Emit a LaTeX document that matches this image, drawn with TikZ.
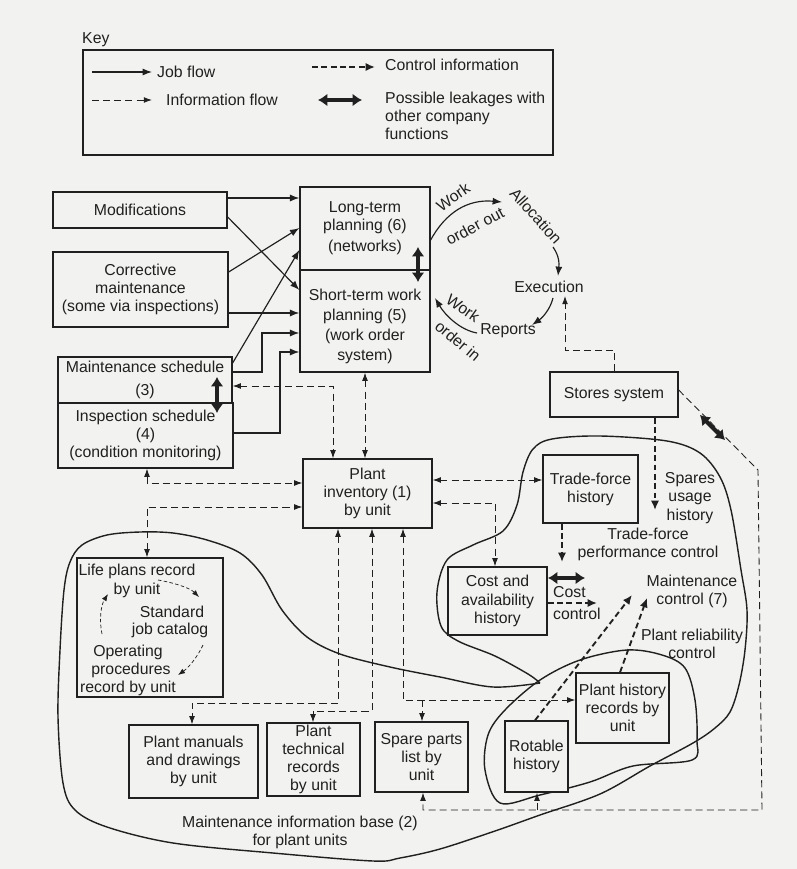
\documentclass[tikz,border=0pt]{standalone}
\usepackage{fontspec}
\setmainfont{Liberation Sans}
\usetikzlibrary{arrows.meta}
\definecolor{paper}{RGB}{242,242,240}
\definecolor{ink}{RGB}{32,32,32}
\begin{document}
\begin{tikzpicture}[x=0.03cm,y=-0.03cm,
  every node/.style={text=ink,font=\fontsize{13.5}{15.5}\selectfont,inner sep=0pt,align=center},
  box/.style={draw=ink,line width=1.1pt,fill=paper},
  job/.style={draw=ink,line width=1pt,-{Latex[length=8pt,width=6pt]}},
  info/.style={draw=ink,line width=0.75pt,dash pattern=on 6pt off 3.5pt,-{Latex[length=7pt,width=5pt]}},
  infob/.style={info,{Latex[length=7pt,width=5pt]}-{Latex[length=7pt,width=5pt]}},
  infos/.style={draw=ink,line width=0.6pt,dash pattern=on 3pt off 2pt,-{Latex[length=6pt,width=4.5pt]}},
  ctrl/.style={draw=ink,line width=1.6pt,dash pattern=on 5pt off 3pt,-{Latex[length=8pt,width=7pt]}},
  leak/.style={draw=ink,line width=3.5pt,{Latex[length=8pt,width=11pt]}-{Latex[length=8pt,width=11pt]}},
  blob/.style={draw=ink,line width=1.2pt},
]
\fill[paper] (0,0) rectangle (797,869);
\useasboundingbox (0,0) rectangle (797,869);

% ---------- key ----------
\node[anchor=west] (keyt) at (82,40) {Key};
\node[box,minimum width=14.1cm,minimum height=3.15cm] (keybox) at (318,102.5) {};
\coordinate (k1a) at (92,72); \coordinate (k1b) at (152,72);
\draw[job] (k1a) -- (k1b);
\node[anchor=west] (k1t) at (157,72) {Job flow};
\coordinate (k2a) at (92,100); \coordinate (k2b) at (152,100);
\draw[info] (k2a) -- (k2b);
\node[anchor=west] (k2t) at (166,100) {Information flow};
\coordinate (k3a) at (312,67); \coordinate (k3b) at (375,67);
\draw[ctrl] (k3a) -- (k3b);
\node[anchor=west] (k3t) at (385,65) {Control information};
\coordinate (k4a) at (318,100); \coordinate (k4b) at (362,100);
\draw[leak] (k4a) -- (k4b);
\node[anchor=west,align=left] (k4t) at (385,116) {Possible leakages with\\other company\\functions};

% ---------- blobs ----------
\draw[blob] plot[smooth,tension=0.55] coordinates {(540,683) (528,674) (495,656) (458,641) (441,626) (437,592) (447,560) (473,545) (503,531) (517,505) (523,472) (533,449) (552,439) (600,436) (667,441) (700,453) (720,477) (731,510) (741,570) (747,610) (745,650) (739,685) (730,712) (715,728) (693,743) (650,766) (600,794) (540,815) (495,831) (440,849) (400,858) (373,861) (273,853) (173,843) (107,827) (75,810) (63,783) (58,717) (60,650) (64,590) (70,562) (82,545) (107,535) (140,532) (173,533) (207,540) (240,553) (262,575) (282,610) (307,637) (340,654) (390,667) (440,677) (493,687) (540,683)};
\draw[blob] plot[smooth cycle,tension=0.55] coordinates {(540,680) (580,660) (627,650) (662,655) (685,668) (695,700) (697,740) (692,760) (633,766) (590,782) (540,795) (500,803) (485,770) (488,735) (505,710)};

% ---------- boxes ----------
\node[box,minimum width=5.22cm,minimum height=1.08cm] (mod) at (140,210) {Modifications};
\node[box,minimum width=5.25cm,minimum height=2.25cm] (corr) at (140.5,289.5) {Corrective\\maintenance\\(some via inspections)};
\node[box,minimum width=3.9cm,minimum height=2.49cm] (lt) at (365,228.5) {Long-term\\planning (6)\\[2.6pt](networks)};
\node[box,minimum width=3.9cm,minimum height=3.06cm] (st) at (365,321) {};
\node (stt) at (365,326.5) {Short-term work\\[1.5pt]planning (5)\\[1.5pt](work order\\[1.5pt]system)};
\node[box,minimum width=5.22cm,minimum height=1.38cm] (ms) at (145,380) {Maintenance schedule\\[4pt](3)};
\node[box,minimum width=5.25cm,minimum height=1.95cm] (is) at (145.5,435.5) {Inspection schedule\\(4)\\(condition monitoring)};
\node[box,minimum width=3.87cm,minimum height=2.07cm] (pi) at (367.5,493.5) {Plant\\inventory (1)\\by unit};
\node[box,minimum width=3.84cm,minimum height=1.35cm] (stores) at (614,394.5) {Stores system};
\node[box,minimum width=2.85cm,minimum height=2.04cm] (tfh) at (590.5,489) {Trade-force\\history};
\node[box,minimum width=2.97cm,minimum height=2.04cm] (cah) at (497.5,601) {Cost and\\availability\\history};
\node[box,minimum width=2.79cm,minimum height=2.1cm] (phr) at (622.5,708) {Plant history\\records by\\unit};
\node[box,minimum width=1.89cm,minimum height=2.13cm] (rot) at (536.5,756.5) {Rotable\\history};
\node[box,minimum width=2.79cm,minimum height=2.1cm] (spl) at (421.5,757) {Spare parts\\list by\\unit};
\node[box,minimum width=3.87cm,minimum height=2.19cm] (pm) at (193.5,761.5) {Plant manuals\\and drawings\\by unit};
\node[box,minimum width=2.79cm,minimum height=2.19cm] (ptr) at (313.5,759.5) {Plant\\technical\\records\\by unit};
\node[box,minimum width=4.38cm,minimum height=4.17cm] (lp) at (150,627.5) {};

% life plans contents
\node (lp1) at (137,571) {Life plans record};
\node (lp2) at (137,590) {by unit};
\node (lp3) at (172,612) {Standard};
\node (lp4) at (170,630) {job catalog};
\node (lp5) at (128,652) {Operating};
\node (lp6) at (131,670) {procedures};
\node (lp7) at (128,688) {record by unit};
\draw[infos] (158,580) .. controls (175,583) and (190,588) .. (199,597);
\draw[infos] (203,645) .. controls (197,658) and (188,668) .. (178,675);
\draw[infos] (102,634) .. controls (99,620) and (101,605) .. (108,594);

% ---------- free labels ----------
\node (exec) at (549,287) {Execution};
\node (rep) at (508,331) {Reports};
\node[rotate=-48] (alloc) at (536,216) {Allocation};
\node[rotate=35] (wo1) at (453,197) {Work};
\node[rotate=28] (wo2) at (475,226) {order out};
\node[rotate=-35] (wi1) at (463,308) {Work};
\node[rotate=-40] (wi2) at (458,341) {order in};
\node (spu) at (690,498) {Spares\\usage\\history};
\node (tfp) at (648,544) {Trade-force\\performance control};
\node[anchor=west,align=left] (cc) at (553,603) {Cost\\[4pt]control};
\node (mc) at (692,591) {Maintenance\\control (7)};
\node (prc) at (692,643.5) {Plant reliability\\control};
\node (mib) at (300,832.5) {Maintenance information base (2)\\for plant units};

% ---------- job flow ----------
\draw[job] (mod.east |- 0,198) -- (lt.west |- 0,198);
\draw[job] (mod.east |- 0,217) -- (st.west |- 0,290);
\draw[job] (corr.east |- 0,272) -- (lt.west |- 0,228);
\draw[job] (corr.east |- 0,313) -- (st.west |- 0,313);
\draw[job] (ms.east |- 0,363) -- (lt.west |- 0,250);
\draw[job] (ms.east |- 0,372) -- (262,372) -- (262,333) -- (st.west |- 0,333);
\draw[job] (is.east |- 0,433) -- (280,433) -- (280,352) -- (st.west |- 0,352);

% cycle
\draw[job] (lt.east |- 0,240) .. controls (446,212) and (468,199) .. (502,202);
\draw[job] (553,247) .. controls (560,257) and (559,265) .. (558,276);
\draw[job] (553,298) .. controls (550,310) and (542,318) .. (532,325);
\draw[job] (477,333) .. controls (460,330) and (445,315) .. (435,298);

% ---------- information flow ----------
\draw[info] (stores.north) -- (614,350) -- (565,350) -- (565,296);
\draw[infob] (st.south) -- (st.south |- pi.north);
\draw[infob] (ms.east |- 0,386) -- (333,386) -- (pi.north -| 333,0);
\draw[infob] (is.south -| 147,0) -- (147,483) -- (pi.west |- 0,483);
\draw[infob] (lp.north -| 147,0) -- (147,507) -- (pi.west |- 0,507);
\draw[infob] (pi.east |- 0,480) -- (tfh.west |- 0,480);
\draw[infob] (pi.east |- 0,503) -- (495,503) -- (cah.north -| 495,0);
\draw[infob] (pi.south -| 338,0) -- (338,703) -- (192,703) -- (pm.north -| 192,0);
\draw[infob] (pi.south -| 372,0) -- (372,711) -- (313,711) -- (ptr.north -| 313,0);
\draw[infob] (pi.south -| 403,0) -- (403,700) -- (phr.west |- 0,700);
\draw[info] (422,700) -- (spl.north -| 422,0);
\draw[info] (stores.east |- 0,390) -- (758,470) -- (762,810) -- (423,810) -- (spl.south -| 423,0);
\draw[info] (537,810) -- (rot.south -| 537,0);

% ---------- control information ----------
\draw[ctrl] (stores.south -| 655,0) -- (655,510);
\draw[ctrl] (tfh.south -| 562,0) -- (562,562);
\draw[ctrl] (cah.east |- 0,603) -- (597,603);
\draw[ctrl] (rot.north -| 535,0) -- (632,595);
\draw[ctrl] (phr.north -| 620,0) -- (647,598);

% ---------- leakages ----------
\draw[leak] (418,247) -- (418,282);
\draw[leak] (217,377) -- (217,413);
\draw[leak] (548,578) -- (585,578);
\draw[leak] (700,415) -- (725,440);
\end{tikzpicture}
\end{document}
